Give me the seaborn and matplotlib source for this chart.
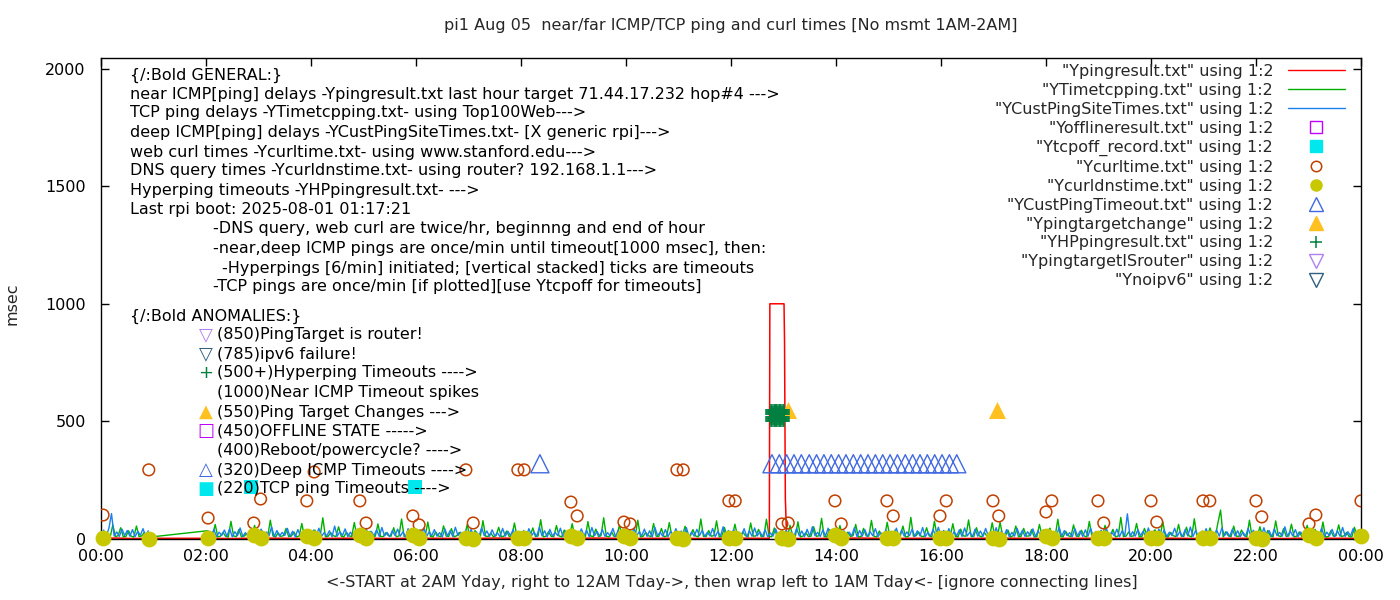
import numpy as np
import pandas as pd
import matplotlib
matplotlib.use("Agg")
import matplotlib.pyplot as plt
from matplotlib.lines import Line2D
import seaborn as sns

# ---- values: x = hour of day, y = msec ----

# near ICMP ping (Ypingresult) - flat near zero, one timeout spike
red_hours = [0.0, 0.3, 0.6, 0.93, 2.0, 2.5, 3.0, 3.5, 4.0, 4.5, 5.0, 5.5, 6.0,
             6.5, 7.0, 7.5, 8.0, 8.5, 9.0, 9.5, 10.0, 10.5, 11.0, 11.5, 12.0,
             12.5, 12.73, 12.74, 13.01, 13.02, 13.035, 13.06, 13.5, 14.0, 14.5,
             15.0, 15.5, 16.0, 16.5, 17.0, 17.5, 18.0, 18.5, 19.0, 19.5, 20.0,
             20.5, 21.0, 21.5, 22.0, 22.5, 23.0, 23.5, 24.0]
red_msec = [3, 4, 2, 3, 3, 2, 4, 3, 2, 3, 4, 2, 3,
            3, 2, 4, 3, 2, 3, 4, 2, 3, 3, 2, 4,
            3, 3, 1000, 1000, 834, 174, 3, 2, 3, 4,
            2, 3, 3, 2, 4, 3, 2, 3, 3, 2, 4,
            3, 2, 3, 3, 2, 4, 3, 3]

# TCP ping (YTimetcpping), one sample every 3 min: 00:01-00:55, then 02:01-23:58
tcp_msec_h0 = [9, 12, 22, 8, 60, 10, 14, 48, 9, 11, 35, 12, 8, 55, 10, 13, 28, 9, 8]
tcp_msec = [
    35, 10, 14, 62, 9, 12, 28, 11, 8, 75, 13, 10, 40, 9, 12, 22, 14, 10, 58, 11,
    9, 33, 12, 10, 80, 13, 9, 26, 11, 14, 45, 10, 12, 30, 9, 13, 66, 11, 10, 24,
    12, 38, 10, 13, 90, 9, 11, 27, 14, 10, 52, 12, 9, 29, 13, 11, 70, 10, 12, 41,
    10, 13, 33, 9, 12, 64, 11, 10, 27, 14, 12, 48, 9, 13, 85, 10, 11, 31, 12, 9,
    14, 39, 10, 12, 72, 11, 9, 30, 13, 10, 56, 12, 11, 44, 9, 14, 28, 10, 12, 61,
    11, 9, 36, 13, 10, 78, 12, 11, 25, 9, 14, 50, 10, 12, 34, 11, 13, 68, 9, 10,
    12, 29, 11, 14, 47, 10, 13, 82, 9, 12, 31, 11, 10, 57, 13, 9, 38, 12, 14, 65,
    10, 11, 33, 12, 9, 74, 13, 10, 42, 11, 14, 90, 12, 9, 30, 10, 13, 59, 11, 12,
    13, 37, 10, 12, 80, 9, 11, 28, 14, 10, 66, 12, 11, 45, 9, 13, 70, 10, 12, 32,
    11, 14, 54, 10, 12, 40, 13, 9, 85, 11, 10, 36, 12, 14, 77, 9, 11, 49, 13, 10,
    12, 63, 10, 11, 30, 14, 9, 68, 12, 13, 41, 10, 11, 84, 12, 9, 47, 13, 10, 35,
    14, 10, 58, 12, 11, 73, 9, 13, 27, 10, 12, 52, 11, 14, 88, 10, 9, 40, 12, 11,
    13, 57, 10, 12, 29, 11, 14, 62, 9, 10, 45, 13, 12, 79, 11, 9, 34, 14, 10, 71,
    10, 12, 38, 11, 13, 55, 9, 10, 92, 12, 14, 30, 11, 10, 48, 13, 9, 76, 12, 11,
    12, 33, 14, 10, 65, 11, 9, 42, 13, 12, 81, 10, 11, 48, 14, 9, 28, 12, 10, 69,
    11, 10, 71, 13, 12, 38, 9, 14, 55, 10, 11, 45, 12, 13, 40, 9, 10, 62, 14, 11,
    13, 46, 10, 12, 84, 11, 9, 33, 14, 10, 60, 12, 11, 37, 13, 9, 75, 10, 12, 29,
    10, 12, 58, 11, 14, 41, 9, 13, 92, 10, 12, 30, 11, 14, 66, 9, 10, 45, 13, 12,
    12, 39, 10, 13, 73, 11, 9, 28, 14, 10, 62, 12, 11, 50, 13, 9, 86, 10, 12, 34,
    11, 14, 47, 10, 12, 69, 123, 9, 31, 13, 10, 55, 12, 11, 38, 14, 9, 80, 10, 12,
    13, 52, 10, 11, 36, 12, 9, 77, 14, 10, 44, 11, 13, 63, 9, 12, 30, 10, 14, 58,
    10, 12, 41, 13, 11, 72, 9, 10, 35, 12, 14, 60, 11, 13, 28, 10, 9, 50, 12, 11,
]

# deep ICMP ping (YCustPingSiteTimes), every 3 min: 00:00-00:54, then 02:00-24:00
deep_msec_h0 = [12, 38, 14, 45, 108, 13, 30, 11, 42, 15, 36, 12, 40, 10, 33, 16, 44, 12, 35]
deep_msec = [
    11, 34, 13, 41, 10, 29, 15, 38, 12, 44, 9, 31, 14, 47, 11, 27, 13, 39, 10, 35,
    14, 42, 11, 30, 13, 52, 10, 36, 12, 28, 15, 45, 11, 33, 9, 40, 13, 29, 12, 37,
    10, 38, 14, 46, 11, 27, 13, 35, 9, 55, 12, 31, 15, 43, 10, 29, 13, 40, 11, 34,
    12, 45, 10, 32, 14, 39, 11, 49, 13, 28, 10, 36, 15, 42, 12, 30, 9, 44, 13, 33,
    11, 35, 13, 47, 10, 31, 14, 40, 12, 27, 9, 43, 13, 36, 11, 50, 14, 29, 10, 38,
    13, 41, 10, 30, 12, 48, 14, 34, 11, 39, 13, 26, 10, 45, 12, 33, 15, 40, 11, 31,
    10, 36, 12, 44, 14, 29, 11, 51, 13, 35, 9, 41, 12, 28, 14, 46, 10, 34, 13, 39,
    12, 30, 11, 43, 13, 37, 10, 49, 14, 32, 12, 40, 11, 27, 13, 45, 10, 36, 12, 33,
    14, 38, 10, 46, 12, 31, 13, 42, 11, 35, 9, 50, 14, 29, 12, 40, 10, 33, 13, 44,
    11, 34, 13, 48, 10, 30, 12, 41, 14, 37, 11, 28, 13, 45, 10, 32, 12, 52, 11, 36,
    13, 40, 11, 29, 14, 44, 10, 35, 12, 47, 13, 31, 11, 39, 9, 26, 12, 43, 14, 33,
    10, 37, 12, 30, 11, 45, 13, 34, 10, 41, 12, 52, 14, 28, 11, 38, 13, 46, 10, 32,
    12, 43, 14, 35, 11, 29, 13, 48, 10, 36, 12, 40, 11, 31, 14, 44, 10, 27, 13, 39,
    11, 33, 13, 46, 10, 38, 12, 30, 14, 42, 11, 35, 13, 49, 10, 28, 12, 41, 11, 50,
    13, 36, 10, 44, 12, 31, 14, 39, 11, 47, 13, 29, 10, 42, 12, 34, 11, 45, 14, 30,
    12, 48, 11, 33, 13, 40, 10, 28, 12, 45, 14, 37, 11, 31, 13, 43, 10, 35, 12, 39,
    10, 41, 13, 30, 11, 50, 12, 36, 14, 27, 10, 44, 13, 34, 11, 39, 12, 46, 10, 32,
    13, 37, 11, 45, 12, 29, 14, 42, 10, 35, 13, 107, 11, 31, 12, 40, 14, 33, 10, 47,
    12, 34, 10, 42, 13, 38, 11, 29, 14, 46, 12, 32, 10, 40, 13, 51, 11, 36, 12, 28,
    11, 44, 13, 33, 10, 39, 12, 47, 14, 30, 11, 42, 13, 35, 10, 29, 12, 45, 14, 37,
    13, 31, 11, 48, 12, 36, 10, 43, 14, 28, 12, 52, 11, 34, 13, 40, 10, 30, 12, 45,
    10, 39, 12, 33, 14, 46, 11, 29, 13, 41, 10, 35, 12, 49, 11, 31, 13, 44, 10, 38,
    12,
]

# web curl (Ycurltime) and DNS query (Ycurldnstime), twice per hour
curl_hours = [0.04, 0.91, 2.04, 2.91, 3.04, 3.92, 4.06, 4.93, 5.05, 5.94, 6.06,
              6.95, 7.09, 7.94, 8.06, 8.95, 9.07, 9.96, 10.08, 10.97, 11.09,
              11.96, 12.08, 12.97, 13.09, 13.98, 14.10, 14.97, 15.09, 15.98,
              16.10, 16.99, 17.10, 18.00, 18.11, 18.99, 19.10, 20.00, 20.11,
              20.99, 21.12, 22.00, 22.11, 23.01, 23.14, 24.00]
curl_msec = [102, 294, 89, 68, 170, 162, 285, 162, 68, 98, 60,
             294, 68, 294, 294, 157, 98, 72, 64, 294, 294,
             162, 162, 64, 68, 162, 64, 162, 98, 98,
             162, 162, 98, 115, 162, 162, 68, 162, 72,
             162, 162, 162, 94, 64, 102, 162]
dns_msec = [3, 2, 3, 18, 4, 12, 3, 16, 4, 15, 3,
            6, 2, 5, 3, 14, 3, 12, 4, 3, 2,
            4, 3, 4, 2, 15, 3, 4, 3, 5,
            4, 3, 2, 14, 3, 4, 3, 4, 3,
            4, 3, 4, 2, 16, 3, 12]

# TCP ping timeouts (Ytcpoff_record)
tcpoff_hours = [2.86, 5.98]
tcpoff_msec = [220, 220]

# deep ICMP timeouts (YCustPingTimeout)
custto_hours = [8.36, 12.78, 12.92, 13.06, 13.20, 13.34, 13.49, 13.63, 13.77,
                13.91, 14.05, 14.19, 14.33, 14.47, 14.61, 14.75, 14.89, 15.03,
                15.17, 15.32, 15.46, 15.60, 15.74, 15.88, 16.02, 16.16, 16.30]
custto_msec = [320] * len(custto_hours)

# ping target changes (Ypingtargetchange)
tchange_hours = [13.09, 17.07]
tchange_msec = [550, 550]

# hyperping timeouts (YHPpingresult), vertically stacked ticks
hp_minutes = [12.76, 12.785, 12.81, 12.835, 12.86, 12.885, 12.91, 12.935,
              12.96, 12.985, 13.01]
hp_levels = [500, 510, 520, 530, 540, 550]

xtick_labels = ["00:00", "02:00", "04:00", "06:00", "08:00", "10:00", "12:00",
                "14:00", "16:00", "18:00", "20:00", "22:00", "00:00"]

# ---- tables ----
deep_df = pd.DataFrame({
    "hour": list(np.round(np.arange(len(deep_msec_h0)) * 0.05, 3))
            + list(np.round(2.0 + np.arange(len(deep_msec)) * 0.05, 3)),
    "msec": deep_msec_h0 + deep_msec,
    "seg": [0] * len(deep_msec_h0) + [1] * len(deep_msec),
})
tcp_df = pd.DataFrame({
    "hour": list(np.round(0.025 + np.arange(len(tcp_msec_h0)) * 0.05, 3))
            + list(np.round(2.025 + np.arange(len(tcp_msec)) * 0.05, 3)),
    "msec": tcp_msec_h0 + tcp_msec,
})
hp_df = pd.DataFrame([(h, v) for h in hp_minutes for v in hp_levels],
                     columns=["hour", "msec"])

C_RED = "#ff0000"
C_GREEN = "#00b000"
C_BLUE = "#1a80f0"
C_OFF = "#c000ff"
C_TCPOFF = "#00e8ee"
C_CURL = "#c04000"
C_DNS = "#c8c800"
C_CUSTTO = "#4169e1"
C_TCHANGE = "#ffc020"
C_HP = "#008040"
C_ROUTER = "#b080f0"
C_IPV6 = "#2f5f7f"

FS = 11.5

sns.set_style("ticks")
plt.rcParams['font.family'] = ['DejaVu Sans']
plt.rcParams['font.size'] = FS

fig = plt.figure(figsize=(14, 6), dpi=100)
ax = fig.add_axes([101 / 1400, 1 - 539 / 600, 1260 / 1400, 481 / 600])

sns.lineplot(x=red_hours, y=red_msec, ax=ax, color=C_RED, lw=1.1,
             estimator=None, sort=False)
sns.lineplot(data=tcp_df, x="hour", y="msec", ax=ax, color=C_GREEN, lw=1.0,
             estimator=None, sort=False)
sns.lineplot(data=deep_df, x="hour", y="msec", units="seg", ax=ax,
             color=C_BLUE, lw=1.0, estimator=None, sort=False)

sns.scatterplot(x=tcpoff_hours, y=tcpoff_msec, ax=ax, marker="s", s=110,
                facecolor=C_TCPOFF, edgecolor=C_TCPOFF, linewidth=0, zorder=3)
sns.scatterplot(x=curl_hours, y=curl_msec, ax=ax, marker="o", s=70,
                facecolor="none", edgecolor=C_CURL, linewidth=1.1, zorder=3)
sns.scatterplot(x=curl_hours, y=dns_msec, ax=ax, marker="o", s=130,
                facecolor=C_DNS, edgecolor=C_DNS, linewidth=0, zorder=3,
                clip_on=False)
sns.scatterplot(x=custto_hours, y=custto_msec, ax=ax, marker="^", s=170,
                facecolor="none", edgecolor=C_CUSTTO, linewidth=1, zorder=3)
sns.scatterplot(x=tchange_hours, y=tchange_msec, ax=ax, marker="^", s=150,
                facecolor=C_TCHANGE, edgecolor=C_TCHANGE, linewidth=0, zorder=3)
sns.scatterplot(data=hp_df, x="hour", y="msec", ax=ax, marker="+", s=70,
                color=C_HP, linewidth=1.1, zorder=4)

ax.set_xlim(0, 24)
ax.set_ylim(0, 2045)
ax.set_xticks(range(0, 25, 2))
ax.set_xticklabels(xtick_labels)
ax.set_yticks([0, 500, 1000, 1500, 2000])
ax.tick_params(direction="in", length=6, width=1, top=True, right=True,
               colors="black", labelsize=FS)
ax.tick_params(axis="y", pad=11)
ax.tick_params(axis="x", pad=7)
for sp in ax.spines.values():
    sp.set_visible(True)
    sp.set_linewidth(1)
    sp.set_color("black")

ax.set_xlabel("<-START at 2AM Yday, right to 12AM Tday->, then wrap left to 1AM Tday<- [ignore connecting lines]")
ax.set_ylabel("msec")
ax.xaxis.set_label_coords(0.5008, -0.0748)
ax.yaxis.set_label_coords(-0.0643, 0.49)
ax.text(0.5, 1.0686, "pi1 Aug 05  near/far ICMP/TCP ping and curl times [No msmt 1AM-2AM]",
        transform=ax.transAxes, ha="center", va="center")

# ---- key, gnuplot style: label then sample ----
handles = [
    Line2D([], [], color=C_RED, lw=1),
    Line2D([], [], color=C_GREEN, lw=1),
    Line2D([], [], color=C_BLUE, lw=1),
    Line2D([], [], ls="none", marker="s", ms=8.5, mfc="none", mec=C_OFF, mew=1),
    Line2D([], [], ls="none", marker="s", ms=8.5, mfc=C_TCPOFF, mec=C_TCPOFF),
    Line2D([], [], ls="none", marker="o", ms=7.5, mfc="none", mec=C_CURL, mew=1.1),
    Line2D([], [], ls="none", marker="o", ms=8, mfc=C_DNS, mec=C_DNS),
    Line2D([], [], ls="none", marker="^", ms=10, mfc="none", mec=C_CUSTTO, mew=1),
    Line2D([], [], ls="none", marker="^", ms=10, mfc=C_TCHANGE, mec=C_TCHANGE),
    Line2D([], [], ls="none", marker="+", ms=9, color=C_HP, mew=1.1),
    Line2D([], [], ls="none", marker="v", ms=10, mfc="none", mec=C_ROUTER, mew=1),
    Line2D([], [], ls="none", marker="v", ms=10, mfc="none", mec=C_IPV6, mew=1),
]
labels = ['"Ypingresult.txt" using 1:2', '"YTimetcpping.txt" using 1:2',
          '"YCustPingSiteTimes.txt" using 1:2', '"Yofflineresult.txt" using 1:2',
          '"Ytcpoff_record.txt" using 1:2', '"Ycurltime.txt" using 1:2',
          '"Ycurldnstime.txt" using 1:2', '"YCustPingTimeout.txt" using 1:2',
          '"Ypingtargetchange" using 1:2', '"YHPpingresult.txt" using 1:2',
          '"YpingtargetISrouter" using 1:2', '"Ynoipv6" using 1:2']
ax.legend(handles, labels, loc="upper right", frameon=False, markerfirst=False,
          bbox_to_anchor=(1345 / 1400, 1 - 64 / 600), bbox_transform=fig.transFigure,
          borderaxespad=0, borderpad=0, handlelength=3.6, handletextpad=0.9,
          labelspacing=0.245, fontsize=FS)

# ---- text notes inside the plot ----
def note(x, y, s, color="black", size=FS):
    fig.text(x / 1400, 1 - y / 600, s, ha="left", va="center", color=color,
             fontsize=size)

general = [
    (130, 75, "{/:Bold GENERAL:}"),
    (130, 94, "near ICMP[ping] delays -Ypingresult.txt last hour target 71.44.17.232 hop#4 --->"),
    (130, 113, "TCP ping delays -YTimetcpping.txt- using Top100Web--->"),
    (130, 132, "deep ICMP[ping] delays -YCustPingSiteTimes.txt- [X generic rpi]--->"),
    (130, 152, "web curl times -Ycurltime.txt- using www.stanford.edu--->"),
    (130, 171, "DNS query times -Ycurldnstime.txt- using router? 192.168.1.1--->"),
    (130, 190, "Hyperping timeouts -YHPpingresult.txt- --->"),
    (130, 209, "Last rpi boot: 2025-08-01 01:17:21"),
    (213, 229, "-DNS query, web curl are twice/hr, beginnng and end of hour"),
    (213, 248, "-near,deep ICMP pings are once/min until timeout[1000 msec], then:"),
    (222, 268, "-Hyperpings [6/min] initiated; [vertical stacked] ticks are timeouts"),
    (213, 287, "-TCP pings are once/min [if plotted][use Ytcpoff for timeouts]"),
    (130, 316, "{/:Bold ANOMALIES:}"),
]
for x, y, s in general:
    note(x, y, s)

anomalies = [
    (335, "\u25bd", C_ROUTER, "(850)PingTarget is router!"),
    (354, "\u25bd", C_IPV6, "(785)ipv6 failure!"),
    (373, "+", C_HP, "(500+)Hyperping Timeouts ---->"),
    (393, "", "black", "(1000)Near ICMP Timeout spikes"),
    (412, "\u25b2", C_TCHANGE, "(550)Ping Target Changes --->"),
    (431, "\u25a1", C_OFF, "(450)OFFLINE STATE ----->"),
    (450, "", "black", "(400)Reboot/powercycle? ---->"),
    (470, "\u25b3", C_CUSTTO, "(320)Deep ICMP Timeouts ---->"),
    (489, "\u25a0", C_TCPOFF, "(220)TCP ping Timeouts ---->"),
]
for y, sym, col, s in anomalies:
    if sym:
        fig.text(206 / 1400, 1 - y / 600, sym, ha="center", va="center",
                 color=col, fontsize=13)
    note(217, y, s)

fig.savefig("out.png", dpi=100)
